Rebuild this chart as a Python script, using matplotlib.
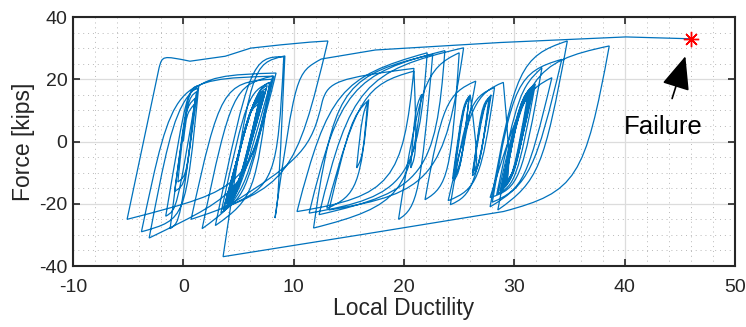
import matplotlib
matplotlib.use("Agg")
import matplotlib.pyplot as plt
from matplotlib.path import Path
from matplotlib.patches import PathPatch
from matplotlib.ticker import MultipleLocator

# Hysteresis record, written as branches: (knee_x, knee_y, end_x, end_y).
# Each branch runs from the previous end point, bends at the knee and
# finishes at the end point (a load reversal or a point on a plateau).
# A branch whose knee equals its end point is a straight run.
start_point = (0.0, 0.0)

cycles_left = [
    (0.3, 9, 1.0, 12),
    (0.3, -11, -0.5, -13),
    (0.2, 11, 1.1, 14),
    (0.2, -14, -0.8, -16),
    (0.4, 14, 1.2, 16),
    (-0.6, -22, -1.6, -24),
    (0.3, 16, 1.3, 17),
    (-0.3, -26, -1.2, -28),
    (0.4, 17, 1.4, 18),
    (0.2, -25, -3.8, -29),
    (-0.9, 20, 8.2, 21),
    (5.6, -16, -3.1, -31),
    (-0.3, 21, 8.4, 22),
    (5.8, -15, -5.1, -25),
    (-2.2, 23.7, -2.2, 23.7),
    (-1.9, 27.6, 0.6, 25.8),
    (3.8, 27.4, 3.8, 27.4),
    (6.1, 30.0, 6.1, 30.0),
    (10.5, 31.7, 13.1, 32.3),
]

cycles_mid_left = [
    (10.0, -14, 0.7, -25),
    (3.4, 19, 8.0, 20),
    (5.6, -18, 1.7, -28),
    (4.4, 18, 8.1, 21),
    (5.8, -17, 3.4, -23),
    (5.8, 16, 7.9, 19),
    (5.0, -18, 3.7, -21),
    (6.5, 16, 7.6, 18),
    (4.9, -16, 3.9, -19),
    (6.3, 14, 7.3, 16),
    (5.0, -15, 4.0, -18),
    (6.1, 12, 7.1, 14),
    (5.1, -14, 4.2, -17),
    (6.0, 11, 6.9, 13),
    (5.2, -13, 4.3, -16),
    (5.9, 10, 6.8, 12),
    (5.1, -14, 4.1, -17),
    (6.0, 11, 6.9, 13.5),
    (5.0, -15, 4.0, -18),
    (6.1, 12, 7.0, 14),
    (5.1, -14, 4.2, -17),
    (6.0, 11, 6.9, 13),
    (5.0, -16, 4.0, -19),
    (6.2, 13, 7.2, 15),
    (4.9, -16, 3.9, -19.5),
    (6.2, 13, 7.1, 15),
    (5.0, -17, 3.8, -20),
    (6.4, 15, 7.5, 17),
    (4.9, -17, 3.9, -20),
    (6.3, 14, 7.3, 16),
    (4.8, -19, 3.6, -22),
    (6.6, 17, 7.8, 19),
    (6.5, -18, 2.9, -27),
    (6.1, 27.5, 9.1, 27.2),
    (8.5, -14, 3.9, -21),
]

cycles_center = [
    (11.5, -4, 12.6, 13),
    (13.2, 20, 20.9, 23.5),
    (19.8, -17, 10.3, -22.5),
    (13.4, 20, 22.1, 28.5),
    (21.2, -17, 11.4, -23),
    (14.4, 21, 23.7, 29.2),
    (22.8, -15, 12.3, -23.5),
    (15.4, 22, 25.4, 30.1),
    (23.5, -16, 13.2, -22),
    (15.2, 8, 16.7, 13),
    (16.3, -5, 15.7, -8.5),
    (16.2, 9, 16.8, 13.5),
    (16.0, -17, 13.0, -21.5),
    (16.0, 18, 20.9, 22.6),
    (21.2, -4, 20.6, -8.5),
    (21.0, 11, 21.6, 15.2),
    (20.5, -20, 11.8, -27.8),
    (12.2, -18, 12.2, -18),
    (14.0, 21, 22.6, 28.0),
]

cycles_mid_right = [
    (21.4, -21, 19.5, -25),
    (21.6, 23, 25.0, 28.5),
    (24.2, -14, 21.9, -18.7),
    (23.6, 15, 26.5, 19.4),
    (25.0, -10, 24.4, -12),
    (25.3, 12, 25.9, 14.5),
    (25.2, -9, 24.5, -11),
    (25.3, 11, 25.9, 14),
    (25.1, -10, 24.5, -12.5),
    (25.4, 12, 26.0, 15),
    (26.8, -8, 26.2, -10),
    (27.1, 11, 27.7, 14),
    (26.9, -8, 26.3, -9.5),
    (27.0, 12, 27.8, 14.5),
    (26.8, -9, 26.2, -11),
    (27.2, 12, 27.9, 15),
    (26.4, -17, 24.2, -20.3),
    (25.8, 14, 28.2, 17.3),
    (26.9, -15, 24.0, -19),
    (26.2, 15, 29.0, 19),
]

cycles_right = [
    (29.8, -13, 28.5, -17),
    (30.6, 15, 31.8, 18),
    (29.9, -12, 28.8, -15.5),
    (30.6, 14, 31.6, 17),
    (30.0, -11, 29.0, -14.5),
    (30.5, 13, 31.5, 16),
    (30.1, -10, 29.1, -13.5),
    (30.5, 12, 31.3, 15),
    (30.0, -11, 29.0, -14.5),
    (30.6, 14, 31.5, 16.5),
    (30.1, -11, 29.1, -14),
    (30.5, 13, 31.4, 15.5),
    (30.0, -12, 28.9, -15),
    (30.7, 14, 31.6, 17),
    (30.1, -10, 29.2, -13),
    (30.4, 12, 31.2, 14.5),
    (29.9, -12, 28.8, -15.5),
    (30.6, 15, 31.7, 17.5),
    (29.9, -13, 28.7, -16),
    (30.8, 16, 31.9, 18.5),
    (30.2, -14, 28.4, -17),
    (30.4, 17, 32.5, 23.7),
    (30.6, -15, 27.8, -18),
    (30.8, 16, 33.4, 20.5),
    (31.0, -15, 28.0, -19.5),
    (30.0, 22, 34.3, 26.4),
    (31.7, -12.5, 27.8, -21),
    (30.2, 27, 34.8, 32.3),
    (32.5, -12, 28.5, -22),
    (31.0, 25, 38.6, 30.7),
    (36.2, -15.7, 29.0, -22.5),
    (16.0, -30, 3.6, -37),
]

# last reload and push to failure
final_push = [
    (6.2, 25, 9.2, 27.5),
    (8.6, -19, 8.3, -24.6),
    (10.2, 22, 12.5, 26.5),
    (17.4, 29.4, 17.4, 29.4),
    (28.7, 31.8, 28.7, 31.8),
    (40.1, 33.6, 40.1, 33.6),
    (46.0, 33.0, 46.0, 33.0),
]

failure_point = (46.0, 33.0)
failure_label = "Failure"
failure_text_pos = (43.5, 4.8)

line_color = "#0072BD"

plt.rcParams["font.family"] = ["Liberation Sans", "DejaVu Sans"]
plt.rcParams["axes.unicode_minus"] = False

fig = plt.figure(figsize=(7.46, 3.27), dpi=100)
ax = fig.add_axes([0.0979, 0.1865, 0.8874, 0.7615])

# knee pull per group: 1.0 gives a tight bend, lower values round it off
groups = [(cycles_left, 1.0), (cycles_mid_left, 0.95), (cycles_center, 0.9),
          (cycles_mid_right, 0.9), (cycles_right, 0.92), (final_push, 1.0)]

verts = [start_point]
codes = [Path.MOVETO]
px, py = start_point
for branches, pull in groups:
    for kx, ky, ex, ey in branches:
        c1 = (px + pull * (kx - px), py + pull * (ky - py))
        c2 = (ex + pull * (kx - ex), ey + pull * (ky - ey))
        verts += [c1, c2, (ex, ey)]
        codes += [Path.CURVE4] * 3
        px, py = ex, ey

ax.add_patch(PathPatch(Path(verts, codes), facecolor="none",
                       edgecolor=line_color, lw=0.9, zorder=3))

ax.plot(*failure_point, marker=(8, 2, 0), color="red", markersize=11,
        markeredgewidth=1.0, zorder=4)

ax.annotate(failure_label, xy=(45.5, 27.4), xytext=failure_text_pos,
            ha="center", va="center", fontsize=18.5, color="black",
            arrowprops=dict(arrowstyle="-|>,head_length=1.3,head_width=0.55",
                            color="black", lw=1.2, mutation_scale=16,
                            shrinkA=10, shrinkB=0))

ax.set_xlim(-10, 50)
ax.set_ylim(-40, 40)
ax.xaxis.set_major_locator(MultipleLocator(10))
ax.yaxis.set_major_locator(MultipleLocator(20))
ax.xaxis.set_minor_locator(MultipleLocator(2))
ax.yaxis.set_minor_locator(MultipleLocator(5))

ax.grid(True, which="major", color="#dcdcdc", lw=0.9, zorder=0)
ax.grid(True, which="minor", color="#b8b8b8", lw=0.7, ls=(0, (1, 4)), zorder=0)
ax.set_axisbelow(True)

ax.tick_params(which="major", direction="in", length=5, width=1.2,
               top=True, right=True, labelsize=14, colors="#262626")
ax.tick_params(axis="x", pad=9)
ax.tick_params(axis="y", pad=4)
ax.tick_params(which="minor", length=0)
for spine in ax.spines.values():
    spine.set_color("#262626")
    spine.set_linewidth(1.5)

ax.set_xlabel("Local Ductility", fontsize=16.5, color="#262626", labelpad=1)
ax.set_ylabel("Force [kips]", fontsize=16.5, color="#262626", labelpad=3)

fig.savefig("out.png", dpi=100)
